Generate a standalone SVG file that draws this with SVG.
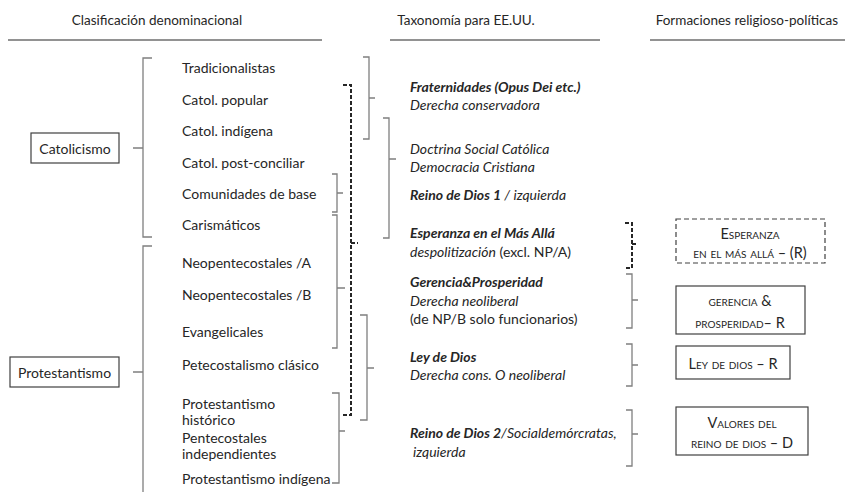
<svg xmlns="http://www.w3.org/2000/svg" width="845" height="492" viewBox="0 0 845 492">
<style>
text{font-family:Lato,"Liberation Sans",sans-serif;font-size:14px;fill:#262626;dominant-baseline:central}
.h{font-size:13.5px}
.i{font-style:italic}
.b{font-weight:bold;font-style:italic}
.n{font-style:normal;font-weight:normal}
.sc{font-variant:small-caps;font-size:14.5px}
.br{fill:none;stroke:#7f7f7f;stroke-width:1.3}
.bd{fill:none;stroke:#262626;stroke-width:2;stroke-dasharray:4 2}
.box{fill:#fff;stroke:#404040;stroke-width:1.2}
.boxd{fill:#fff;stroke:#404040;stroke-width:1.2;stroke-dasharray:5 3}
.hl{stroke:#262626;stroke-width:1.2}
</style>
<rect width="845" height="492" fill="#fff"/>
<g id="headers">
<text class="h" x="157" y="20" text-anchor="middle">Clasificación denominacional</text>
<text class="h" x="466" y="20" text-anchor="middle">Taxonomía para EE.UU.</text>
<text class="h" x="838" y="20" text-anchor="end">Formaciones religioso-políticas</text>
<line class="hl" x1="8" y1="40" x2="322" y2="40"/>
<line class="hl" x1="390" y1="40" x2="600" y2="40"/>
<line class="hl" x1="650" y1="40" x2="845" y2="40"/>
</g>
<g id="connectors">
<path class="br" d="M152,58 H143 V237 H152 M133,148 H143"/>
<path class="br" d="M152,246 H143 V495 M133,372 H143"/>
<path class="br" d="M363,57 H369 V139 H363 M369,98 H375"/>
<path class="br" d="M383,118 H389 V238 H383 M389,159 H396"/>
<path class="br" d="M332,174 H337 V212 H332 M337,193 H343"/>
<path class="br" d="M332,215 H337 V348 H332 M337,288 H345"/>
<path class="br" d="M360,315 H367 V420 H360 M367,368 H374"/>
<path class="br" d="M332,393 H339 V483 H332 M339,431 H345"/>
<path class="bd" d="M343,85 H351 V415 H343 M351,243 H358"/>
<path class="bd" d="M625,223 H632 V268 H625 M632,244 H638"/>
<path class="br" d="M626,274 H632 V328 H626 M632,300 H638"/>
<path class="br" d="M626,344 H632 V386 H626 M632,365 H638"/>
<path class="br" d="M626,410 H632 V466 H626 M632,434 H638"/>
</g>
<g id="catolicismo">
<rect class="box" x="31" y="133" width="88" height="30"/>
<text x="75" y="148" text-anchor="middle">Catolicismo</text>
</g>
<g id="protestantismo">
<rect class="box" x="10" y="357" width="109" height="30"/>
<text x="64.5" y="372" text-anchor="middle">Protestantismo</text>
</g>
<g id="denominaciones">
<text x="182" y="67">Tradicionalistas</text>
<text x="182" y="99">Catol. popular</text>
<text x="182" y="130">Catol. indígena</text>
<text x="182" y="162">Catol. post-conciliar</text>
<text x="182" y="193">Comunidades de base</text>
<text x="182" y="224">Carismáticos</text>
<text x="182" y="262">Neopentecostales /A</text>
<text x="182" y="294">Neopentecostales /B</text>
<text x="182" y="331">Evangelicales</text>
<text x="182" y="364">Petecostalismo clásico</text>
<text x="182" y="403">Protestantismo</text>
<text x="182" y="419">histórico</text>
<text x="182" y="437">Pentecostales</text>
<text x="182" y="453">independientes</text>
<text x="182" y="478">Protestantismo indígena</text>
</g>
<g id="taxonomia">
<text class="b" x="410" y="86">Fraternidades (Opus Dei etc.)</text>
<text class="i" x="410" y="104">Derecha conservadora</text>
<text class="i" x="410" y="148">Doctrina Social Católica</text>
<text class="i" x="410" y="166">Democracia Cristiana</text>
<text class="b" x="410" y="194">Reino de Dios 1<tspan class="i" font-weight="normal"> / izquierda</tspan></text>
<text class="b" x="410" y="232">Esperanza en el Más Allá</text>
<text class="i" x="410" y="251">despolitización<tspan class="n"> (excl. NP/A)</tspan></text>
<text class="b" x="410" y="281">Gerencia&amp;Prosperidad</text>
<text class="i" x="410" y="300">Derecha neoliberal</text>
<text x="410" y="318">(de NP/B solo funcionarios)</text>
<text class="b" x="410" y="356">Ley de Dios</text>
<text class="i" x="410" y="374">Derecha cons. O neoliberal</text>
<text class="b" x="410" y="432">Reino de Dios 2<tspan class="i" font-weight="normal">/Socialdemórcratas,</tspan></text>
<text class="i" x="413" y="451">izquierda</text>
</g>
<g id="esperanza">
<rect class="boxd" x="676" y="219" width="149" height="44"/>
<text class="sc" x="750" y="233" text-anchor="middle">Esperanza</text>
<text class="sc" x="750" y="252" text-anchor="middle">en el más allá – (R)</text>
</g>
<g id="gerencia">
<rect class="box" x="676" y="286" width="129" height="48"/>
<text class="sc" x="740" y="300" text-anchor="middle">gerencia &amp;</text>
<text class="sc" x="740" y="322" text-anchor="middle">prosperidad– R</text>
</g>
<g id="ley">
<rect class="box" x="676" y="346" width="114" height="33"/>
<text class="sc" x="733" y="363" text-anchor="middle">Ley de dios – R</text>
</g>
<g id="valores">
<rect class="box" x="676" y="407" width="132" height="48"/>
<text class="sc" x="742" y="422" text-anchor="middle">Valores del</text>
<text class="sc" x="742" y="442" text-anchor="middle">reino de dios – D</text>
</g>
</svg>
